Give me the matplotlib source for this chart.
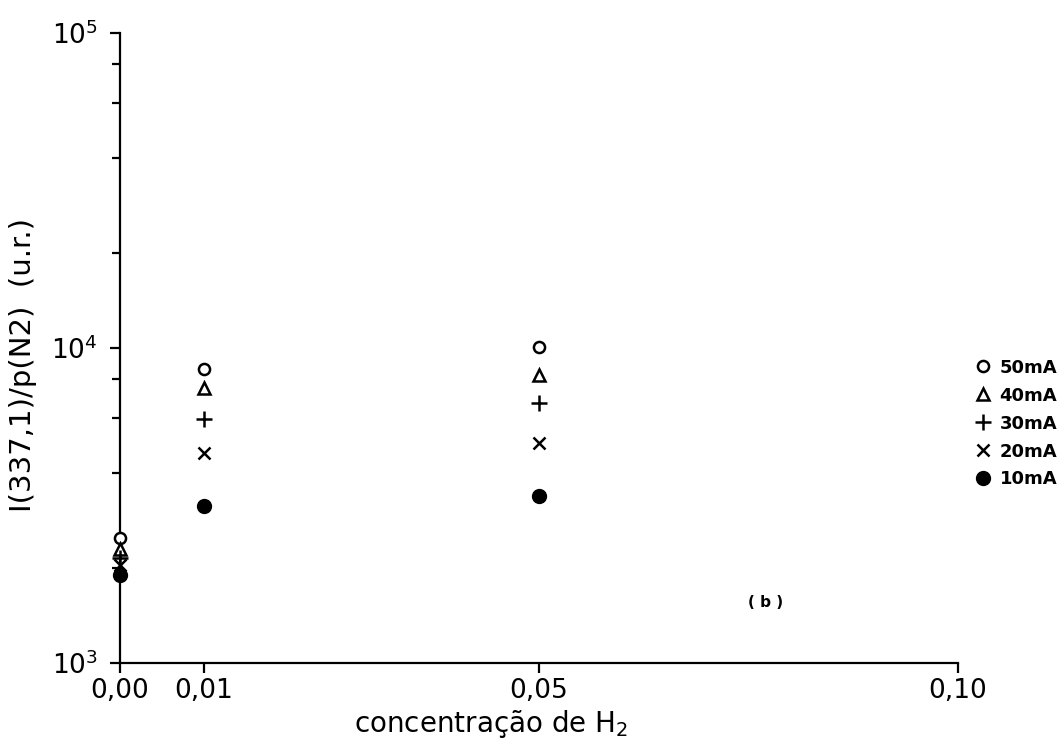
import matplotlib
matplotlib.use("Agg")
import matplotlib.pyplot as plt
from matplotlib.ticker import FixedLocator, LogLocator, NullFormatter

# concentração de H2 and normalised intensity I(337,1)/p(N2), one list per current
conc = [0.00, 0.01, 0.05]
i_50mA = [2500, 8600, 10100]
i_40mA = [2300, 7450, 8200]
i_30mA = [2150, 5950, 6700]
i_20mA = [2050, 4650, 5000]
i_10mA = [1900, 3150, 3400]

series_labels = ["50mA", "40mA", "30mA", "20mA", "10mA"]
x_ticks = [0.00, 0.01, 0.05, 0.10]
x_tick_labels = ["0,00", "0,01", "0,05", "0,10"]

plt.rcParams["font.family"] = ["DejaVu Sans"]

fig = plt.figure(figsize=(10.64, 7.47), dpi=100)
ax = fig.add_axes([0.1128, 0.1124, 0.7876, 0.8434])

styles = [
    dict(marker="o", mfc="white", mec="black", mew=1.8, ms=8),
    dict(marker="^", mfc="white", mec="black", mew=1.8, ms=8),
    dict(marker="+", color="black", mew=1.8, ms=12),
    dict(marker="x", color="black", mew=1.8, ms=9),
    dict(marker="o", color="black", ms=10),
]
for vals, lab, st in zip([i_50mA, i_40mA, i_30mA, i_20mA, i_10mA], series_labels, styles):
    ax.plot(conc, vals, linestyle="none", label=lab, clip_on=False, zorder=3, **st)

ax.set_yscale("log")
ax.set_ylim(1e3, 1e5)
ax.set_xlim(0, 0.10)

ax.yaxis.set_minor_locator(LogLocator(base=10, subs=[2, 4, 6, 8]))
ax.yaxis.set_minor_formatter(NullFormatter())
ax.xaxis.set_major_locator(FixedLocator(x_ticks))
ax.set_xticklabels(x_tick_labels)

for side in ["top", "right"]:
    ax.spines[side].set_visible(False)
for side in ["left", "bottom"]:
    ax.spines[side].set_linewidth(1.6)

ax.tick_params(axis="both", which="major", direction="out", length=7, width=1.6, labelsize=19)
ax.tick_params(axis="y", which="minor", direction="out", length=6, width=1.6)
ax.tick_params(axis="y", which="major", pad=9)
ax.tick_params(axis="x", which="major", pad=4)

ax.set_xlabel("concentração de H$_2$", fontsize=20)
ax.set_ylabel("I(337,1)/p(N2)  (u.r.)", fontsize=21)
# label anchors: xlabel by its top edge, ylabel by its right edge
ax.xaxis.set_label_coords(0.443, -0.072)
ax.yaxis.set_label_coords(-0.099, 0.473)

ax.text(0.077, 1560, "( b )", fontsize=11, fontweight="bold", ha="center", va="center")

ax.legend(loc="center left", bbox_to_anchor=(1.0, 0.38), frameon=False,
          prop={"weight": "bold", "size": 13},
          handletextpad=0.3, labelspacing=0.55, handlelength=1.2,
          borderaxespad=0.4)

fig.savefig("out.png", dpi=100)
